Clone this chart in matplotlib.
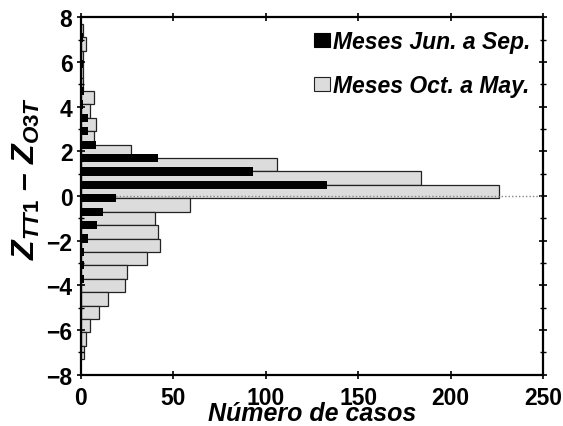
import matplotlib
matplotlib.use("Agg")
import matplotlib.pyplot as plt
from matplotlib.patches import Patch
from matplotlib.ticker import MultipleLocator

plt.rcParams["font.family"] = ["Liberation Sans", "DejaVu Sans"]
plt.rcParams["font.weight"] = "bold"
plt.rcParams["mathtext.fontset"] = "custom"
plt.rcParams["mathtext.it"] = "Liberation Sans:italic:bold"
plt.rcParams["mathtext.rm"] = "Liberation Sans:bold"
plt.rcParams["mathtext.bf"] = "Liberation Sans:bold"

# Oct-May histogram: bin centres and counts
oct_may_centers = [7.4, 6.8, 6.2, 5.6, 5.0, 4.4, 3.8, 3.2, 2.6, 2.0, 1.4, 0.8, 0.2,
                   -0.4, -1.0, -1.6, -2.2, -2.8, -3.4, -4.0, -4.6, -5.2, -5.8, -6.4, -7.0]
oct_may_counts = [1, 3, 1, 1, 1, 7, 5, 8, 7, 27, 106, 184, 226,
                  59, 40, 42, 43, 36, 25, 24, 15, 10, 5, 3, 2]

# Jun-Sep histogram: bin centres and counts
jun_sep_centers = [7.1, 6.5, 5.9, 5.3, 4.7, 4.1, 3.5, 2.9, 2.3, 1.7, 1.1, 0.5,
                   -0.1, -0.7, -1.3, -1.9, -2.5, -3.1, -3.7]
jun_sep_counts = [1, 0, 1, 0, 2, 1, 4, 4, 8, 42, 93, 133,
                  19, 12, 9, 4, 2, 2, 2]

labels = ["Meses Jun. a Sep.", "Meses Oct. a May."]
x_ticks = [0, 50, 100, 150, 200, 250]
y_ticks = [-8, -6, -4, -2, 0, 2, 4, 6, 8]

fig = plt.figure(figsize=(5.63, 4.27), dpi=100)
ax = fig.add_axes([0.1434, 0.120, 0.8216, 0.837])

ax.barh(oct_may_centers, oct_may_counts, height=0.6, color="#dcdcdc",
        edgecolor="#222222", linewidth=0.9, zorder=1)
ax.axhline(0, color="#888888", linestyle=(0, (1, 1.5)), linewidth=1.0, zorder=2)
ax.barh(jun_sep_centers, jun_sep_counts, height=0.37, color="black",
        edgecolor="none", zorder=3)

ax.set_xlim(0, 250)
ax.set_ylim(-8, 8)
ax.set_xticks(x_ticks)
ax.set_yticks(y_ticks)
ax.set_yticklabels([str(v).replace("-", "\u2212") for v in y_ticks])
ax.yaxis.set_minor_locator(MultipleLocator(1))
ax.tick_params(axis="both", which="major", direction="inout", length=6, width=1.2,
               labelsize=16.5, top=True, right=True)
ax.tick_params(axis="x", which="major", pad=5)
ax.tick_params(axis="y", which="major", pad=3)
ax.tick_params(axis="y", which="minor", direction="inout", length=5, width=1.0,
               right=True)
for lab in ax.get_xticklabels() + ax.get_yticklabels():
    lab.set_fontweight("bold")

for sp in ax.spines.values():
    sp.set_linewidth(1.6)

ax.set_xlabel("Número de casos", fontsize=18, fontweight="bold", style="italic",
              labelpad=-6)
ax.set_ylabel(r"$\mathit{Z_{TT1}}$ – $\mathit{Z_{O3T}}$", fontsize=23,
              fontweight="bold", style="italic")
ax.yaxis.set_label_coords(-0.083, 0.553)

handles = [Patch(facecolor="black", edgecolor="black", linewidth=0.8),
           Patch(facecolor="#dcdcdc", edgecolor="#222222", linewidth=0.8)]
leg = ax.legend(handles, labels, loc="upper right", bbox_to_anchor=(1.0, 1.0),
                frameon=False, handlelength=0.7, handleheight=0.6,
                handletextpad=0.15, labelspacing=0.92, borderaxespad=0.15,
                prop={"size": 16.5, "weight": "bold", "style": "italic"})

fig.savefig("out.png", dpi=100)
